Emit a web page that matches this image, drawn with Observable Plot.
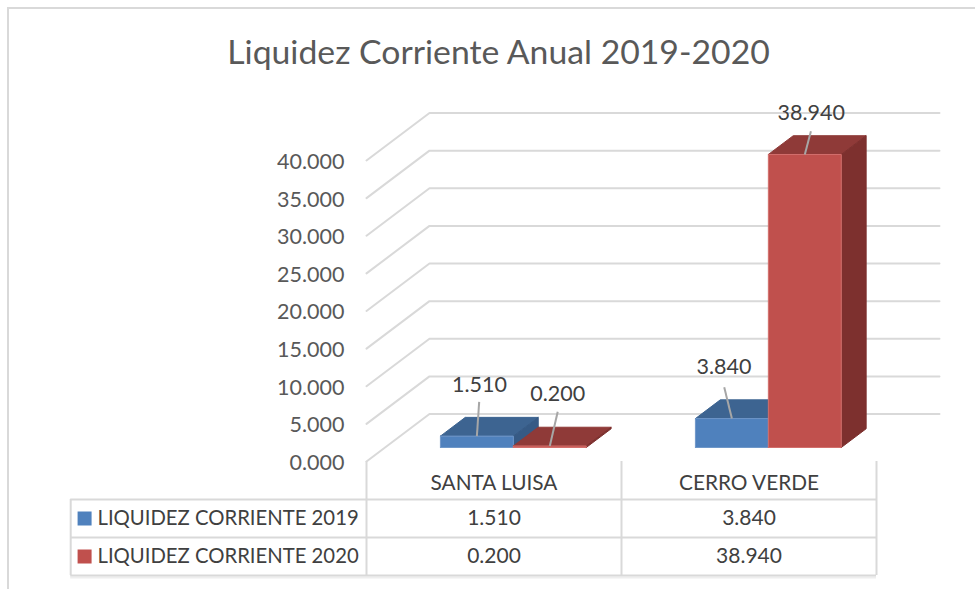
<!DOCTYPE html>
<html>
<head>
<meta charset="utf-8">
<script src="https://cdn.jsdelivr.net/npm/d3@7"></script>
<script src="https://cdn.jsdelivr.net/npm/@observablehq/plot@0.6"></script>
<style>
html,body{margin:0;padding:0;background:#fff;overflow:hidden}
#chart{position:relative;width:975px;height:589px}
#chart svg{display:block;position:absolute;left:0;top:0;background:transparent}
#border{position:absolute;left:7px;top:7px;width:980px;height:600px;border:2px solid #d9d9d9;box-sizing:border-box}
#title{position:absolute;left:0;top:31px;width:997px;text-align:center;font:33.75px Lato,sans-serif;color:#595959;white-space:nowrap}
</style>
</head>
<body>
<div id="chart"><div id="border"></div><div id="title">Liquidez Corriente Anual 2019-2020</div></div>
<script>
const categories = ["SANTA LUISA", "CERRO VERDE"];
const seriesNames = ["LIQUIDEZ CORRIENTE 2019", "LIQUIDEZ CORRIENTE 2020"];
const values2019 = [1.51, 3.84];
const values2020 = [0.2, 38.94];
const yTicks = [0, 5, 10, 15, 20, 25, 30, 35, 40];

// colours: [front, top, side, front edge]
const colors2019 = ["#4f81bd", "#3d6491", "#365a85", "#6f97c9"];
const colors2020 = ["#c0504d", "#8f3a38", "#7d302e", "#d26f6c"];
const gridColor = "#d9d9d9";
const textColor = "#404040";

// layout in chart units: x = category units, y = value units, z = depth 0..1
const depthX = 0.247, depthY = 6.31;
const barZ0 = 0.295, barZ1 = 0.69;
const barOffset = 0.217, barWidth = 0.286;
const rowHeight = 5.05;
const legendLeft = -1.16;
const swatchX = -1.133, legendTextX = -1.055;
// label and leader-line offsets from each bar's top front edge, in chart units
const labelOffsets = [[0.01, 6.78], [0.031, 6.91], [-0.031, 6.78], [0.025, 5.45]];
const leaderOffsets = [[0.009, 4.56], [0.031, 4.56], [-0.03, 4.16], [0.024, 3.1]];

const fmt = v => v.toFixed(3);
const P = (x, v, z) => ({x: x + z * depthX, y: v + z * depthY});

// 3-D bar faces, two series per category
const bars = categories.flatMap((_, c) =>
  [values2019, values2020].map((vals, s) => ({c, s, v: vals[c]})));
const faces = [];
const labels = [];
const leaders = [];
bars.forEach((b, i) => {
  const pal = b.s === 0 ? colors2019 : colors2020;
  const x0 = b.c + barOffset + b.s * barWidth, x1 = x0 + barWidth, v = b.v;
  const quad = (name, col, edge, pts) => pts.forEach(p => faces.push({...p, key: `${i}-${name}`, col, edge}));
  quad("top", pal[1], pal[1], [P(x0, v, barZ0), P(x1, v, barZ0), P(x1, v, barZ1), P(x0, v, barZ1), P(x0, v, barZ0)]);
  quad("side", pal[2], pal[2], [P(x1, 0, barZ0), P(x1, v, barZ0), P(x1, v, barZ1), P(x1, 0, barZ1), P(x1, 0, barZ0)]);
  quad("front", pal[0], pal[3], [P(x0, 0, barZ0), P(x1, 0, barZ0), P(x1, v, barZ0), P(x0, v, barZ0), P(x0, 0, barZ0)]);
  const a = P((x0 + x1) / 2, v, barZ0);
  labels.push({x: a.x + labelOffsets[i][0], y: a.y + labelOffsets[i][1], text: fmt(v)});
  leaders.push({x1: a.x, y1: a.y, x2: a.x + leaderOffsets[i][0], y2: a.y + leaderOffsets[i][1]});
});

// gridlines: short diagonal on the side wall, then along the back wall
const grid = yTicks.flatMap(v => [P(0, v, 0), P(0, v, 1), P(categories.length, v, 1)].map(p => ({...p, v})));

// data table below the plot
const rows = [values2019, values2020];
const hRules = [1, 2, 3].map(r => -r * rowHeight);
const vRules = [
  {x: legendLeft, y1: -rowHeight, y2: -3 * rowHeight},
  {x: 0, y1: 0, y2: -3 * rowHeight},
  {x: 1, y1: 0, y2: -3 * rowHeight},
  {x: 2, y1: 0, y2: -3 * rowHeight}
];
const cellText = rows.flatMap((vals, r) => vals.map((v, c) => ({x: c + 0.5, y: -(r + 1.5) * rowHeight, text: fmt(v)})));
const legendRows = seriesNames.map((name, r) => ({name, y: -(r + 1.5) * rowHeight, col: (r === 0 ? colors2019 : colors2020)[0]}));

const plot = Plot.plot({
  width: 975, height: 589,
  marginLeft: 366, marginRight: 99, marginTop: 160, marginBottom: 128,
  style: {background: "transparent", fontFamily: "Lato, sans-serif"},
  x: {domain: [0, 2], axis: null},
  y: {domain: [0, 40], axis: null},
  color: {type: "identity"},
  marks: [
    Plot.line(grid, {x: "x", y: "y", z: "v", stroke: gridColor, strokeWidth: 2}),
    Plot.line(faces, {x: "x", y: "y", z: "key", fill: "col", stroke: "edge", strokeWidth: 1}),
    Plot.link(leaders, {x1: "x1", y1: "y1", x2: "x2", y2: "y2", stroke: "#a6a6a6", strokeWidth: 2}),
    Plot.text(labels, {x: "x", y: "y", text: "text", fontSize: 21.5, fill: textColor}),
    Plot.axisY({ticks: yTicks, tickSize: 0, tickPadding: 22, tickFormat: fmt, fontSize: 21.5, color: "#595959", label: null, dy: 1.5}),
    Plot.ruleY([-3 * rowHeight], {x1: legendLeft, x2: 2, y: d => d, stroke: "#eeeeee", strokeWidth: 2, dy: 2}),
    Plot.ruleY(hRules, {x1: legendLeft, x2: 2, y: d => d, stroke: gridColor, strokeWidth: 2}),
    Plot.ruleX(vRules, {x: "x", y1: "y1", y2: "y2", stroke: gridColor, strokeWidth: 2}),
    Plot.text(categories, {x: (d, i) => i + 0.5, y: -rowHeight / 2, text: d => d, fontSize: 20.8, fill: textColor, dy: 3}),
    Plot.text(cellText, {x: "x", y: "y", text: "text", fontSize: 21, fill: textColor}),
    Plot.dot(legendRows, {x: swatchX, y: "y", symbol: "square", r: 7.9, fill: "col", stroke: "none", dx: 7}),
    Plot.text(legendRows, {x: legendTextX, y: "y", text: "name", textAnchor: "start", fontSize: 20.3, fill: textColor})
  ]
});
document.getElementById("chart").appendChild(plot);
</script>
</body>
</html>
